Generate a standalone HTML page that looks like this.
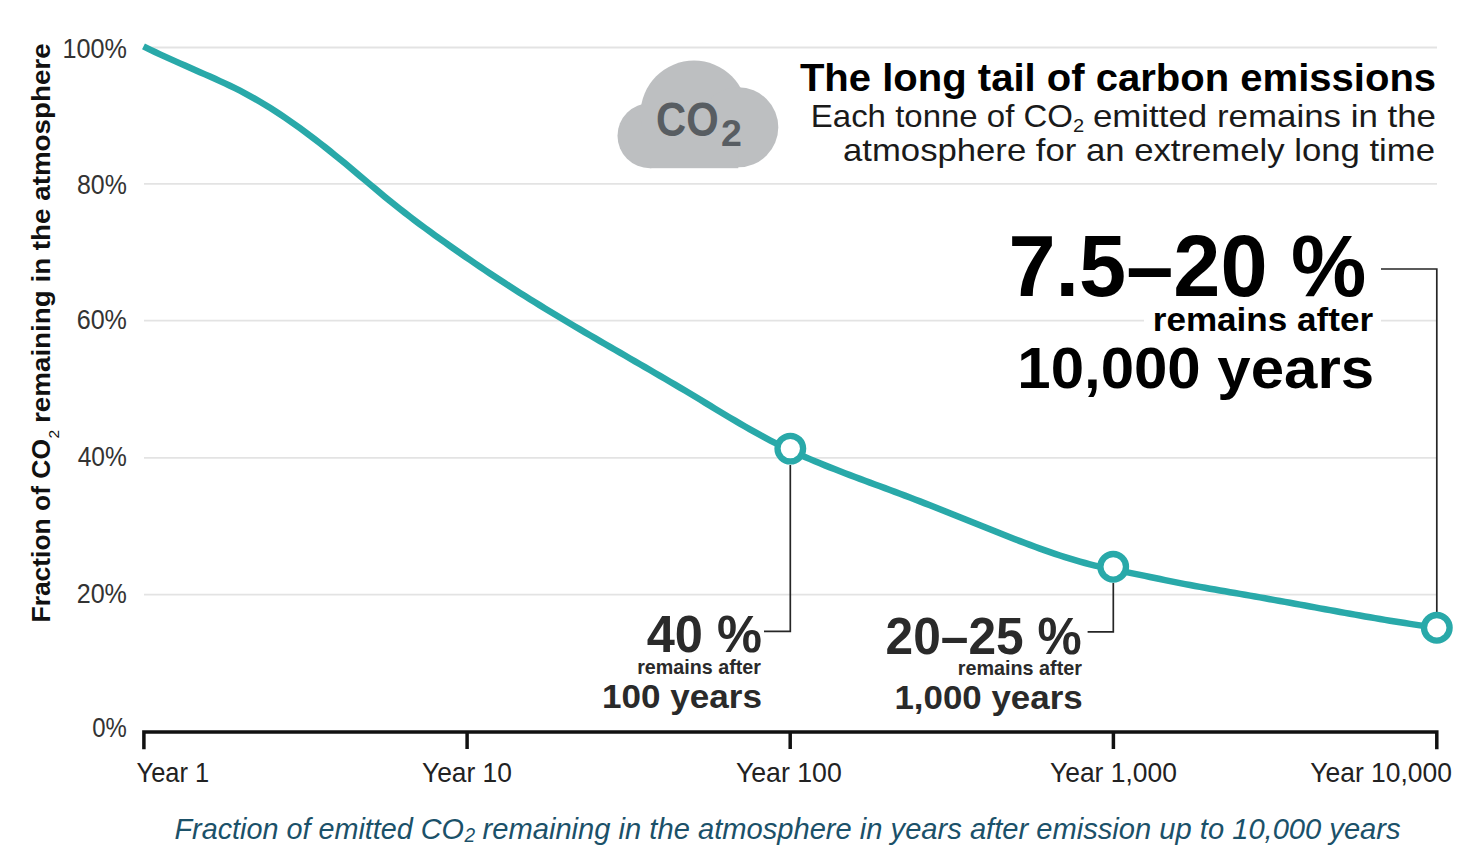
<!DOCTYPE html>
<html><head><meta charset="utf-8">
<style>
html,body{margin:0;padding:0;background:#fff;width:1469px;height:863px;overflow:hidden}
svg{display:block}
text{font-family:"Liberation Sans",sans-serif}
</style></head>
<body>
<svg width="1469" height="863" viewBox="0 0 1469 863">
<rect width="1469" height="863" fill="#fff"/>
<g stroke="#e3e3e3" stroke-width="1.8" fill="none">
<line x1="144" y1="47.5" x2="1437" y2="47.5"/>
<line x1="144" y1="183.8" x2="1437" y2="183.8"/>
<line x1="144" y1="320.6" x2="1437" y2="320.6"/>
<line x1="144" y1="457.8" x2="1437" y2="457.8"/>
<line x1="144" y1="594.6" x2="1437" y2="594.6"/>
</g>
<rect x="1144" y="300" width="237" height="42" fill="#fff"/>
<g stroke="#111" stroke-width="3.5" fill="none">
<path d="M143.9 749.3 V731.9 H1436.8 V749.3"/>
<line x1="467.1" y1="731.9" x2="467.1" y2="749"/>
<line x1="790.2" y1="731.9" x2="790.2" y2="749"/>
<line x1="1113.4" y1="731.9" x2="1113.4" y2="749"/>
</g>
<g stroke="#262626" stroke-width="1.7" fill="none">
<path d="M1381 269 H1436.8 V612"/>
<path d="M764 631.4 H790.3 V465"/>
<path d="M1087.6 631.8 H1113.3 V583"/>
</g>
<path fill="none" stroke="#29a9a9" stroke-width="6.5" stroke-linejoin="round" d="M143.5 46.40 L145.0 47.14 L150.0 49.59 L155.0 51.98 L160.0 54.33 L165.0 56.63 L170.0 58.91 L175.0 61.15 L180.0 63.37 L185.0 65.58 L190.0 67.78 L195.0 69.97 L200.0 72.17 L205.0 74.37 L210.0 76.59 L215.0 78.83 L220.0 81.10 L225.0 83.41 L230.0 85.77 L235.0 88.20 L240.0 90.71 L245.0 93.31 L250.0 96.02 L255.0 98.83 L260.0 101.74 L265.0 104.75 L270.0 107.85 L275.0 111.03 L280.0 114.31 L285.0 117.66 L290.0 121.10 L295.0 124.62 L300.0 128.21 L305.0 131.87 L310.0 135.60 L315.0 139.39 L320.0 143.25 L325.0 147.16 L330.0 151.14 L335.0 155.16 L340.0 159.23 L345.0 163.36 L350.0 167.52 L355.0 171.71 L360.0 175.92 L365.0 180.14 L370.0 184.36 L375.0 188.56 L380.0 192.74 L385.0 196.88 L390.0 200.98 L395.0 205.02 L400.0 208.99 L405.0 212.90 L410.0 216.75 L415.0 220.55 L420.0 224.30 L425.0 228.01 L430.0 231.67 L435.0 235.30 L440.0 238.90 L445.0 242.47 L450.0 246.01 L455.0 249.53 L460.0 253.02 L465.0 256.49 L470.0 259.93 L475.0 263.34 L480.0 266.73 L485.0 270.10 L490.0 273.44 L495.0 276.75 L500.0 280.04 L505.0 283.30 L510.0 286.53 L515.0 289.74 L520.0 292.92 L525.0 296.07 L530.0 299.20 L535.0 302.31 L540.0 305.39 L545.0 308.45 L550.0 311.50 L555.0 314.52 L560.0 317.52 L565.0 320.51 L570.0 323.49 L575.0 326.45 L580.0 329.40 L585.0 332.33 L590.0 335.26 L595.0 338.17 L600.0 341.08 L605.0 343.99 L610.0 346.88 L615.0 349.78 L620.0 352.67 L625.0 355.56 L630.0 358.45 L635.0 361.34 L640.0 364.23 L645.0 367.13 L650.0 370.03 L655.0 372.94 L660.0 375.85 L665.0 378.78 L670.0 381.71 L675.0 384.65 L680.0 387.61 L685.0 390.58 L690.0 393.56 L695.0 396.56 L700.0 399.58 L705.0 402.61 L710.0 405.63 L715.0 408.66 L720.0 411.68 L725.0 414.69 L730.0 417.68 L735.0 420.64 L740.0 423.58 L745.0 426.48 L750.0 429.34 L755.0 432.15 L760.0 434.91 L765.0 437.61 L770.0 440.26 L775.0 442.83 L780.0 445.34 L785.0 447.79 L790.0 450.17 L795.0 452.49 L800.0 454.76 L805.0 456.97 L810.0 459.14 L815.0 461.26 L820.0 463.33 L825.0 465.37 L830.0 467.38 L835.0 469.35 L840.0 471.30 L845.0 473.22 L850.0 475.12 L855.0 477.01 L860.0 478.87 L865.0 480.73 L870.0 482.58 L875.0 484.43 L880.0 486.28 L885.0 488.13 L890.0 489.98 L895.0 491.85 L900.0 493.73 L905.0 495.63 L910.0 497.54 L915.0 499.46 L920.0 501.40 L925.0 503.36 L930.0 505.32 L935.0 507.29 L940.0 509.27 L945.0 511.26 L950.0 513.25 L955.0 515.25 L960.0 517.26 L965.0 519.26 L970.0 521.27 L975.0 523.27 L980.0 525.28 L985.0 527.28 L990.0 529.28 L995.0 531.27 L1000.0 533.26 L1005.0 535.24 L1010.0 537.21 L1015.0 539.16 L1020.0 541.10 L1025.0 543.01 L1030.0 544.90 L1035.0 546.76 L1040.0 548.59 L1045.0 550.38 L1050.0 552.14 L1055.0 553.84 L1060.0 555.51 L1065.0 557.12 L1070.0 558.68 L1075.0 560.18 L1080.0 561.62 L1085.0 563.00 L1090.0 564.30 L1095.0 565.54 L1100.0 566.71 L1105.0 567.82 L1110.0 568.88 L1115.0 569.91 L1120.0 570.91 L1125.0 571.90 L1130.0 572.89 L1135.0 573.89 L1140.0 574.91 L1145.0 575.93 L1150.0 576.97 L1155.0 578.01 L1160.0 579.05 L1165.0 580.08 L1170.0 581.11 L1175.0 582.12 L1180.0 583.12 L1185.0 584.09 L1190.0 585.04 L1195.0 585.98 L1200.0 586.89 L1205.0 587.80 L1210.0 588.69 L1215.0 589.57 L1220.0 590.45 L1225.0 591.32 L1230.0 592.18 L1235.0 593.04 L1240.0 593.90 L1245.0 594.77 L1250.0 595.64 L1255.0 596.51 L1260.0 597.39 L1265.0 598.28 L1270.0 599.18 L1275.0 600.08 L1280.0 600.99 L1285.0 601.90 L1290.0 602.81 L1295.0 603.73 L1300.0 604.65 L1305.0 605.57 L1310.0 606.49 L1315.0 607.41 L1320.0 608.33 L1325.0 609.24 L1330.0 610.16 L1335.0 611.07 L1340.0 611.98 L1345.0 612.88 L1350.0 613.78 L1355.0 614.67 L1360.0 615.55 L1365.0 616.43 L1370.0 617.30 L1375.0 618.16 L1380.0 619.01 L1385.0 619.84 L1390.0 620.67 L1395.0 621.48 L1400.0 622.29 L1405.0 623.07 L1410.0 623.85 L1415.0 624.60 L1420.0 625.35 L1425.0 626.07 L1430.0 626.78 L1435.0 627.47 L1436.8 627.71"/>
<g fill="#fff" stroke="#29a9a9" stroke-width="6.3">
<circle cx="790.3" cy="448.6" r="12.8"/>
<circle cx="1113.2" cy="566.8" r="12.8"/>
<circle cx="1436.8" cy="627.8" r="12.8"/>
</g>
<g fill="#bdbfc1">
<circle cx="650" cy="135.7" r="32.5"/>
<circle cx="694" cy="114.1" r="53.5"/>
<circle cx="738.3" cy="127.3" r="40"/>
<rect x="650" y="120" width="88.3" height="48.2"/>
</g>

<text id="title" x="799.90" y="91.40" font-size="39.20" fill="#000" font-weight="bold" textLength="636.21" lengthAdjust="spacingAndGlyphs">The long tail of carbon emissions</text>
<text id="sub2" x="843.00" y="161.40" font-size="32.20" fill="#1a1a1a" textLength="592.01" lengthAdjust="spacingAndGlyphs">atmosphere for an extremely long time</text>
<text id="big7" x="1008.50" y="296.10" font-size="86.80" fill="#000" font-weight="bold" textLength="357.79" lengthAdjust="spacingAndGlyphs">7.5–20 %</text>
<text id="bigRem" x="1152.80" y="330.50" font-size="32.80" fill="#000" font-weight="bold" textLength="220.24" lengthAdjust="spacingAndGlyphs">remains after</text>
<text id="big10k" x="1017.30" y="387.90" font-size="58.00" fill="#000" font-weight="bold" textLength="356.80" lengthAdjust="spacingAndGlyphs">10,000 years</text>
<text id="p40" x="646.70" y="652.10" font-size="50.90" fill="#2a2a2a" font-weight="bold" textLength="115.24" lengthAdjust="spacingAndGlyphs">40 %</text>
<text id="rem40" x="637.20" y="674.30" font-size="20.50" fill="#2a2a2a" font-weight="bold" textLength="123.73" lengthAdjust="spacingAndGlyphs">remains after</text>
<text id="y100" x="602.10" y="707.90" font-size="33.30" fill="#2a2a2a" font-weight="bold" textLength="159.88" lengthAdjust="spacingAndGlyphs">100 years</text>
<text id="p2025" x="885.60" y="653.60" font-size="50.90" fill="#2a2a2a" font-weight="bold" textLength="196.04" lengthAdjust="spacingAndGlyphs">20–25 %</text>
<text id="rem2025" x="957.70" y="674.90" font-size="20.50" fill="#2a2a2a" font-weight="bold" textLength="124.23" lengthAdjust="spacingAndGlyphs">remains after</text>
<text id="y1000" x="894.40" y="708.90" font-size="32.50" fill="#2a2a2a" font-weight="bold" textLength="188.26" lengthAdjust="spacingAndGlyphs">1,000 years</text>
<text id="Y1" x="136.50" y="782.00" font-size="27.60" fill="#222" textLength="72.65" lengthAdjust="spacingAndGlyphs">Year 1</text>
<text id="Y10" x="422.00" y="782.00" font-size="27.60" fill="#222" textLength="89.96" lengthAdjust="spacingAndGlyphs">Year 10</text>
<text id="Y100" x="735.90" y="782.00" font-size="27.60" fill="#222" textLength="105.86" lengthAdjust="spacingAndGlyphs">Year 100</text>
<text id="Y1000" x="1050.00" y="782.00" font-size="27.60" fill="#222" textLength="126.85" lengthAdjust="spacingAndGlyphs">Year 1,000</text>
<text id="Y10000" x="1310.30" y="782.00" font-size="27.60" fill="#222" textLength="141.65" lengthAdjust="spacingAndGlyphs">Year 10,000</text>
<text id="L100" x="62.50" y="57.50" font-size="26.90" fill="#333" textLength="64.46" lengthAdjust="spacingAndGlyphs">100%</text>
<text id="L80" x="77.00" y="193.70" font-size="26.90" fill="#333" textLength="49.88" lengthAdjust="spacingAndGlyphs">80%</text>
<text id="L60" x="76.70" y="328.90" font-size="26.90" fill="#333" textLength="50.23" lengthAdjust="spacingAndGlyphs">60%</text>
<text id="L40" x="77.70" y="466.00" font-size="26.90" fill="#333" textLength="49.16" lengthAdjust="spacingAndGlyphs">40%</text>
<text id="L20" x="76.70" y="603.00" font-size="26.90" fill="#333" textLength="50.23" lengthAdjust="spacingAndGlyphs">20%</text>
<text id="L0" x="92.30" y="737.20" font-size="26.90" fill="#333" textLength="34.61" lengthAdjust="spacingAndGlyphs">0%</text>
<text id="CO" x="656.00" y="135.80" font-size="47.80" fill="#585d62" font-weight="bold" textLength="62.67" lengthAdjust="spacingAndGlyphs">CO</text>
<text id="CO2" x="721.00" y="146.40" font-size="36.50" fill="#585d62" font-weight="bold" textLength="20.86" lengthAdjust="spacingAndGlyphs">2</text>
<text id="ytA" x="0.00" y="0.00" font-size="25.20" fill="#111" font-weight="bold" textLength="183.46" lengthAdjust="spacingAndGlyphs" transform="translate(50.00,622.50) rotate(-90)">Fraction of CO</text>
<text id="ytB" x="0.00" y="0.00" font-size="14.80" fill="#111" textLength="8.62" lengthAdjust="spacingAndGlyphs" transform="translate(58.60,438.50) rotate(-90)">2</text>
<text id="ytC" x="0.00" y="0.00" font-size="25.20" fill="#111" font-weight="bold" textLength="379.63" lengthAdjust="spacingAndGlyphs" transform="translate(50.00,423.00) rotate(-90)">remaining in the atmosphere</text>
<text id="sub1A" x="810.80" y="127.10" font-size="32.20" fill="#1a1a1a" textLength="262.17" lengthAdjust="spacingAndGlyphs">Each tonne of CO</text>
<text id="sub1B" x="1073.00" y="131.80" font-size="19.00" fill="#1a1a1a" textLength="11.19" lengthAdjust="spacingAndGlyphs">2</text>
<text id="sub1C" x="1092.90" y="127.10" font-size="32.20" fill="#1a1a1a" textLength="343.14" lengthAdjust="spacingAndGlyphs">emitted remains in the</text>
<text id="capA" x="174.50" y="839.20" font-size="29.60" fill="#1b5169" font-style="italic" textLength="289.51" lengthAdjust="spacingAndGlyphs">Fraction of emitted CO</text>
<text id="capB" x="464.40" y="841.80" font-size="19.30" fill="#1b5169" font-style="italic" textLength="10.61" lengthAdjust="spacingAndGlyphs">2</text>
<text id="capC" x="482.60" y="839.20" font-size="29.60" fill="#1b5169" font-style="italic" textLength="918.00" lengthAdjust="spacingAndGlyphs">remaining in the atmosphere in years after emission up to 10,000 years</text>
</svg>
</body></html>
